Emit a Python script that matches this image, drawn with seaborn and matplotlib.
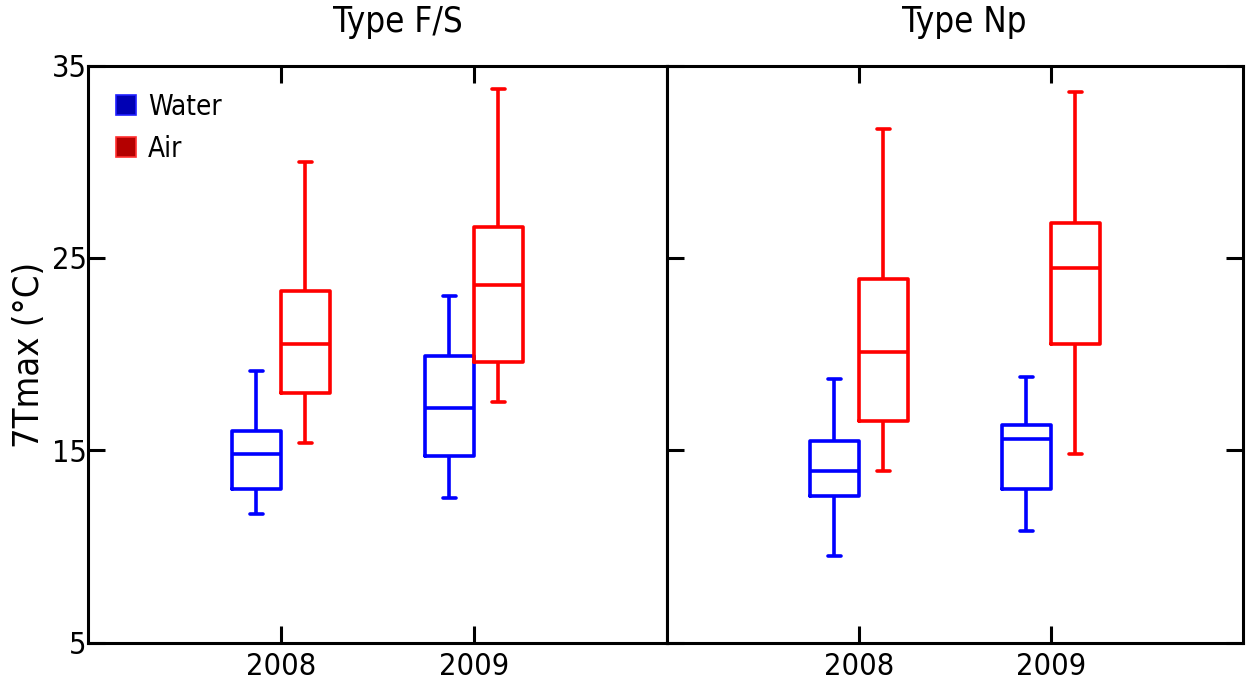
import numpy as np
import pandas as pd
import matplotlib
matplotlib.use("Agg")
import matplotlib.pyplot as plt
from matplotlib import font_manager
from matplotlib.patches import Patch
import seaborn as sns

# Five-number summaries (whisker low, Q1, median, Q3, whisker high) per box
years = ["2008", "2009"]
sources = ["Water", "Air"]
types = ["Type F/S", "Type Np"]

fs_water_2008 = [11.7, 13.0, 14.8, 16.0, 19.1]
fs_water_2009 = [12.5, 14.7, 17.2, 19.9, 23.0]
fs_air_2008 = [15.4, 18.0, 20.5, 23.3, 30.0]
fs_air_2009 = [17.5, 19.6, 23.6, 26.6, 33.8]

np_water_2008 = [9.5, 12.6, 13.9, 15.5, 18.7]
np_water_2009 = [10.8, 13.0, 15.6, 16.3, 18.8]
np_air_2008 = [13.9, 16.5, 20.1, 23.9, 31.7]
np_air_2009 = [14.8, 20.5, 24.5, 26.8, 33.6]

y_ticks = [5, 15, 25, 35]

summaries = {
    ("Type F/S", "2008", "Water"): fs_water_2008,
    ("Type F/S", "2009", "Water"): fs_water_2009,
    ("Type F/S", "2008", "Air"): fs_air_2008,
    ("Type F/S", "2009", "Air"): fs_air_2009,
    ("Type Np", "2008", "Water"): np_water_2008,
    ("Type Np", "2009", "Water"): np_water_2009,
    ("Type Np", "2008", "Air"): np_air_2008,
    ("Type Np", "2009", "Air"): np_air_2009,
}

rows = []
for (t, yr, src), vals in summaries.items():
    for v in vals:
        rows.append({"type": t, "year": yr, "source": src, "value": v})
df = pd.DataFrame(rows)

sns.set_theme(style="white")

# Prefer a condensed sans face when one is installed
condensed = None
for f in font_manager.fontManager.ttflist:
    narrow = ("Narrow" in f.name or "Condensed" in f.name
              or f.stretch in ("condensed", "semi-condensed"))
    if narrow and f.style == "normal" and f.weight in (400, "normal", "regular"):
        if condensed is None or "Liberation" in f.name:
            condensed = f
if condensed is not None:
    plt.rcParams["font.family"] = [condensed.name, "DejaVu Sans"]
    plt.rcParams["font.stretch"] = condensed.stretch
    k = 1.0
else:
    plt.rcParams["font.family"] = ["Liberation Sans", "DejaVu Sans"]
    k = 0.88

for key in ("text.color", "axes.labelcolor", "xtick.color", "ytick.color"):
    plt.rcParams[key] = "black"

palette = {"Water": "#0000ff", "Air": "#ff0000"}

fig = plt.figure(figsize=(12.46, 6.94), dpi=100)
left, right, bottom, top = 88 / 1246, 1243 / 1246, 1 - 642.7 / 694, 1 - 65.5 / 694
mid = 666.7 / 1246
ax1 = fig.add_axes([left, bottom, mid - left, top - bottom])
ax2 = fig.add_axes([mid, bottom, right - mid, top - bottom])

spine_w = 2.2
for ax, t, tx in [(ax1, "Type F/S", 0.535), (ax2, "Type Np", 0.516)]:
    sub = df[df["type"] == t]
    sns.boxplot(data=sub, x="year", y="value", hue="source",
                order=years, hue_order=sources, palette=palette,
                fill=False, width=0.51, gap=0, whis=(0, 100),
                linewidth=2.6, capwidths=0.068, legend=False, ax=ax)
    ax.set_xlim(-1, 2)
    ax.set_ylim(5, 35)
    ax.set_yticks(y_ticks)
    ax.set_xlabel("")
    ax.set_ylabel("")
    for s in ax.spines.values():
        s.set_visible(True)
        s.set_linewidth(spine_w)
        s.set_color("black")
    ax.tick_params(axis="x", which="both", bottom=True, top=True, direction="in",
                   length=12, width=spine_w, labelsize=22 * k, pad=7)
    ax.set_title(t, x=tx, fontsize=25 * k, pad=24)

ax1.tick_params(axis="y", left=True, right=False, direction="in", length=12,
                width=spine_w, labelsize=22 * k, pad=1)
ax2.tick_params(axis="y", left=True, right=True, direction="in", length=12,
                width=spine_w, labelleft=False)

handles = [Patch(facecolor="#0000b4", edgecolor="#2020ff", linewidth=1.2, label="Water"),
           Patch(facecolor="#b40000", edgecolor="#ff3030", linewidth=1.2, label="Air")]
ax1.legend(handles=handles, loc="upper left", bbox_to_anchor=(0.048, 0.953),
           frameon=False, fontsize=20 * k, handlelength=0.72, handleheight=0.72,
           handletextpad=0.45, labelspacing=0.5, borderpad=0, borderaxespad=0)

fig.text(29 / 1246, 1 - 355 / 694, "7Tmax (°C)", rotation=90, fontsize=26 * k,
         ha="center", va="center")

fig.savefig("out.png", dpi=100)
